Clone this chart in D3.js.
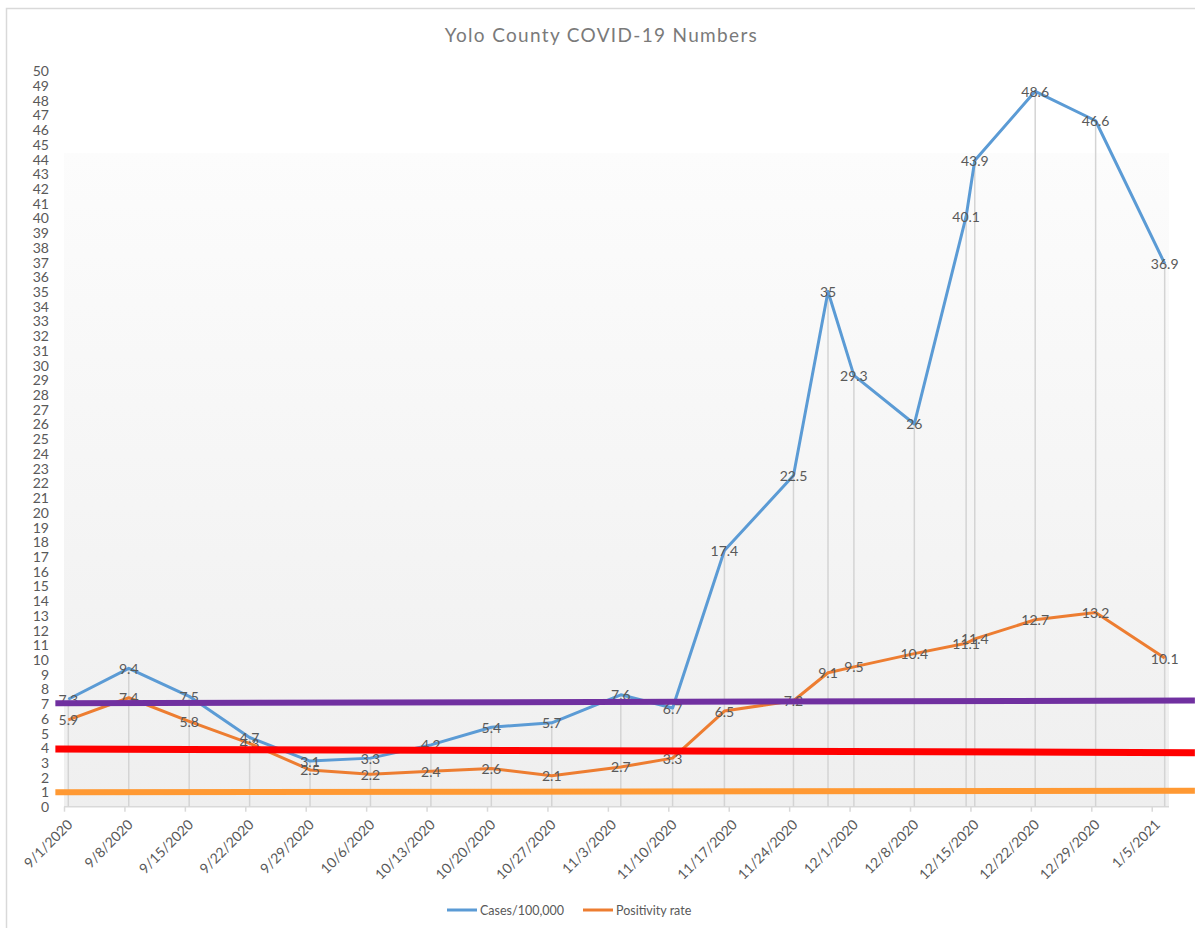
<!DOCTYPE html>
<html>
<head>
<meta charset="utf-8">
<script src="https://cdn.jsdelivr.net/npm/d3@7"></script>
<style>
  html, body { margin: 0; padding: 0; background: #fff; }
  svg { display: block; }
  text { font-family: Lato, "Open Sans", sans-serif; }
</style>
</head>
<body>
<script>
// ---------- DATA ----------
const title = "Yolo County COVID-19 Numbers";
const dates = ["9/1/2020","9/8/2020","9/15/2020","9/22/2020","9/29/2020","10/6/2020","10/13/2020",
  "10/20/2020","10/27/2020","11/4/2020","11/10/2020","11/16/2020","11/24/2020","11/28/2020",
  "12/1/2020","12/8/2020","12/14/2020","12/15/2020","12/22/2020","12/29/2020","1/6/2021"];
const casesPer100k = [7.3,9.4,7.5,4.7,3.1,3.3,4.2,5.4,5.7,7.6,6.7,17.4,22.5,35,29.3,26,40.1,43.9,48.6,46.6,36.9];
const positivityRate = [5.9,7.4,5.8,4.3,2.5,2.2,2.4,2.6,2.1,2.7,3.3,6.5,7.2,9.1,9.5,10.4,11.1,11.4,12.7,13.2,10.1];
const seriesNames = ["Cases/100,000", "Positivity rate"];
const xTickLabels = ["9/1/2020","9/8/2020","9/15/2020","9/22/2020","9/29/2020","10/6/2020","10/13/2020",
  "10/20/2020","10/27/2020","11/3/2020","11/10/2020","11/17/2020","11/24/2020","12/1/2020",
  "12/8/2020","12/15/2020","12/22/2020","12/29/2020","1/5/2021"];
const yTicks = d3.range(0, 51, 1);
// reference lines drawn over the chart: [start date, end date, start value, end value]
const refLineDates = ["8/31/2020", "1/10/2021"];
const refPurple = [7.02, 7.22];
const refRed = [3.92, 3.67];
const refOrange = [0.98, 1.09];

// ---------- LAYOUT ----------
const W = 1195, H = 928;
const plot = { left: 64, right: 1169, top: 70.7, bottom: 806.7 };
const bgTopValue = 44.4;
const colors = { cases: "#5b9bd5", pos: "#ed7d31", purple: "#7030a0", red: "#ff0000", orange: "#ff9933",
  text: "#595959", title: "#7a7a7a", axis: "#d9d9d9", drop: "#d4d4d4" };

const parse = d3.utcParse("%m/%d/%Y");
const x = d3.scaleUtc().domain([parse("9/1/2020"), parse("1/7/2021")]).range([plot.left, plot.right]);
const y = d3.scaleLinear().domain([0, 50]).range([plot.bottom, plot.top]);
const xMid = d => x(d3.utcHour.offset(parse(d), 12));

const svg = d3.select("body").append("svg").attr("width", W).attr("height", H);
const defs = svg.append("defs");
const grad = defs.append("linearGradient").attr("id", "bg").attr("x1", 0).attr("y1", 0).attr("x2", 0).attr("y2", 1);
grad.append("stop").attr("offset", "0%").attr("stop-color", "#fcfcfc");
grad.append("stop").attr("offset", "100%").attr("stop-color", "#efefef");
defs.append("clipPath").attr("id", "chartclip").append("rect").attr("x", 7).attr("y", 8).attr("width", W).attr("height", H);

// chart border
svg.append("rect").attr("x", 6.5).attr("y", 8.5).attr("width", W + 20).attr("height", H + 20)
  .attr("fill", "#fff").attr("stroke", "#d9d9d9").attr("stroke-width", 1.5);

// title
const t = svg.append("text").attr("x", W / 2 + 4).attr("y", 37).attr("text-anchor", "middle")
  .attr("dominant-baseline", "middle").attr("font-size", 19).attr("fill", colors.title).text(title);
const tw = t.node().getComputedTextLength();
t.attr("letter-spacing", Math.max(0, (312 - tw) / (title.length - 1)));

// plot background
svg.append("rect").attr("x", plot.left).attr("y", y(bgTopValue)).attr("width", plot.right - plot.left)
  .attr("height", plot.bottom - y(bgTopValue)).attr("fill", "url(#bg)");

// y labels
svg.append("g").selectAll("text").data(yTicks).join("text")
  .attr("x", 49).attr("y", d => y(d)).attr("text-anchor", "end").attr("dominant-baseline", "central")
  .attr("font-size", 14).attr("fill", colors.text).text(d => d);

// x axis
const xAxis = d3.axisBottom(x).tickValues(xTickLabels.map(parse)).tickSize(5).tickFormat((d, i) => xTickLabels[i]);
const gx = svg.append("g").attr("transform", `translate(0,${plot.bottom})`).call(xAxis);
gx.select(".domain").attr("stroke", colors.axis).attr("stroke-width", 1.5).attr("d", `M${plot.left},0H${plot.right}`);
gx.selectAll(".tick line").attr("stroke", colors.axis).attr("stroke-width", 1.5);
gx.selectAll(".tick text").attr("font-size", 14).attr("fill", colors.text).attr("font-family", "Lato, sans-serif")
  .attr("text-anchor", "end").attr("dy", null).attr("y", 0)
  .attr("transform", "translate(5,15) rotate(-45)").attr("dominant-baseline", "central");

// drop lines
svg.append("g").selectAll("line").data(dates).join("line")
  .attr("x1", d => xMid(d)).attr("x2", d => xMid(d))
  .attr("y1", (d, i) => y(Math.max(casesPer100k[i], positivityRate[i])))
  .attr("y2", plot.bottom)
  .attr("stroke", colors.drop).attr("stroke-width", 1.5);

// series lines
const line = d3.line().x(d => xMid(d[0])).y(d => y(d[1]));
const sCases = dates.map((d, i) => [d, casesPer100k[i]]);
const sPos = dates.map((d, i) => [d, positivityRate[i]]);
svg.append("path").datum(sCases).attr("d", line).attr("fill", "none").attr("stroke", colors.cases)
  .attr("stroke-width", 3).attr("stroke-linejoin", "round");
svg.append("path").datum(sPos).attr("d", line).attr("fill", "none").attr("stroke", colors.pos)
  .attr("stroke-width", 3).attr("stroke-linejoin", "round");

// data labels
[sCases, sPos].forEach(s => {
  svg.append("g").selectAll("text").data(s).join("text")
    .attr("x", d => xMid(d[0])).attr("y", d => y(d[1])).attr("text-anchor", "middle")
    .attr("dominant-baseline", "central").attr("font-size", 14).attr("fill", colors.text).text(d => d[1]);
});

// reference lines (overlay shapes)
const refG = svg.append("g").attr("clip-path", "url(#chartclip)");
[[refPurple, colors.purple, 6], [refRed, colors.red, 7], [refOrange, colors.orange, 6]].forEach(([v, c, w]) => {
  refG.append("line").attr("x1", x(parse(refLineDates[0]))).attr("x2", x(parse(refLineDates[1])))
    .attr("y1", y(v[0])).attr("y2", y(v[1])).attr("stroke", c).attr("stroke-width", w);
});

// legend
const legendItems = [[seriesNames[0], colors.cases], [seriesNames[1], colors.pos]];
const lg = svg.append("g");
let lx = 447;
legendItems.forEach(([name, c]) => {
  lg.append("line").attr("x1", lx).attr("x2", lx + 30).attr("y1", 910).attr("y2", 910)
    .attr("stroke", c).attr("stroke-width", 3);
  const tt = lg.append("text").attr("x", lx + 33).attr("y", 910).attr("dominant-baseline", "central")
    .attr("font-size", 12.5).attr("fill", colors.text).text(name);
  lx += 33 + tt.node().getComputedTextLength() + 19;
});
</script>
</body>
</html>
